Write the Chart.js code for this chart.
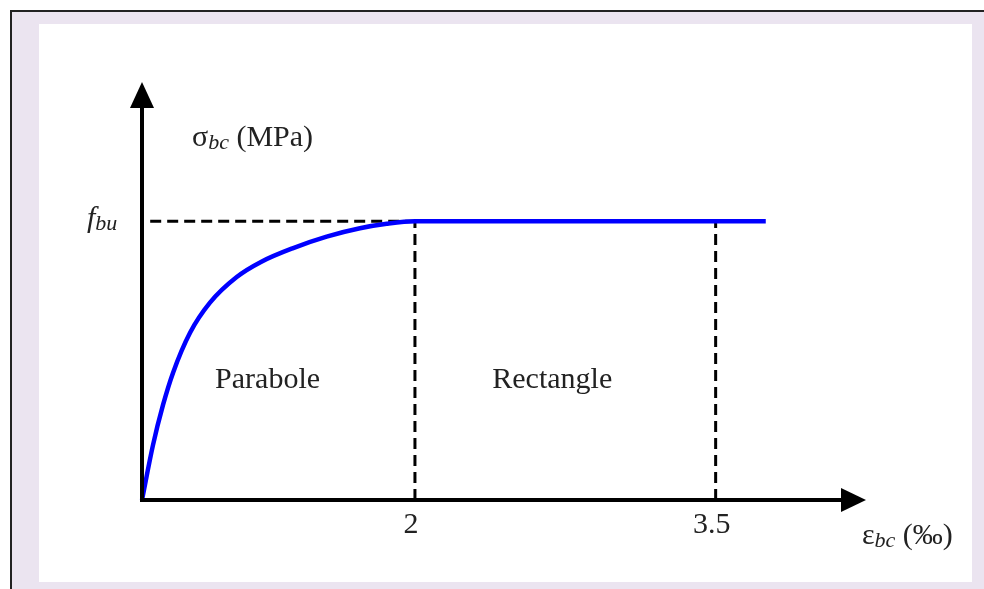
<!DOCTYPE html>
<html lang="fr">
<head>
  <meta charset="UTF-8">
  <title>Diagramme parabole-rectangle</title>
  <style>
    body {
      margin: 0;
      background: #ffffff;
      font-family: "Liberation Serif", serif;
    }
    .frame {
      position: absolute;
      left: 10px;
      top: 10px;
      width: 974px;
      height: 579px;
      background: #ebe4f0;
      border-top: 2px solid #222;
      border-left: 2px solid #222;
      box-sizing: border-box;
    }
    .panel {
      position: absolute;
      left: 39px;
      top: 24px;
      width: 933px;
      height: 558px;
      background: #ffffff;
    }
  </style>
  <script src="https://cdn.jsdelivr.net/npm/chart.js"></script>
</head>
<body>
  <div class="frame"></div>
  <div class="panel">
    <canvas id="chart" width="933" height="558"></canvas>
  </div>

  <script>
    // strain (‰) and normalised stress (sigma / fbu)
    const strain = [0, 0.08, 0.154, 0.227, 0.352, 0.498, 0.694, 0.875, 1.108, 1.353, 1.597, 1.793, 2, 3.75];
    const stress = [0, 0.196, 0.341, 0.456, 0.6, 0.708, 0.8, 0.855, 0.904, 0.945, 0.975, 0.991, 1, 1];

    const kneeStrain = 2;      // end of parabola
    const ultimateStrain = 3.5;
    const fbu = 1;

    const xTickValues = [2, 3.5];
    const xTickLabels = ['2', '3.5'];
    const zoneNames = ['Parabole', 'Rectangle'];

    const xMax = 4.25;
    const yMax = 1.5;

    // the sketch is not to scale: 0..2 is squeezed compared to 2..max
    const KNEE_FRACTION = 0.377;

    class BrokenScale extends Chart.LinearScale {
      static id = 'broken';
      static defaults = Chart.LinearScale.defaults;

      getPixelForValue(v) {
        if (v === null || v === undefined) return NaN;
        let f;
        if (v <= kneeStrain) {
          f = (v - this.min) / (kneeStrain - this.min) * KNEE_FRACTION;
        } else {
          f = KNEE_FRACTION + (v - kneeStrain) / (this.max - kneeStrain) * (1 - KNEE_FRACTION);
        }
        return this.getPixelForDecimal(f);
      }

      getValueForPixel(p) {
        const f = this.getDecimalForPixel(p);
        if (f <= KNEE_FRACTION) {
          return this.min + f / KNEE_FRACTION * (kneeStrain - this.min);
        }
        return kneeStrain + (f - KNEE_FRACTION) / (1 - KNEE_FRACTION) * (this.max - kneeStrain);
      }
    }
    Chart.register(BrokenScale);

    const pts = strain.map((x, i) => ({ x: x, y: stress[i] }));

    const dashed = {
      borderColor: '#000',
      borderWidth: 3,
      borderDash: [11, 6],
      pointRadius: 0,
      fill: false,
      order: 2
    };

    const SERIF = '"Liberation Serif", "Times New Roman", serif';

    function drawSub(ctx, x, y, main, mainFont, sub, subFont, rest) {
      ctx.font = mainFont;
      ctx.fillText(main, x, y);
      x += ctx.measureText(main).width;
      ctx.font = subFont;
      ctx.fillText(sub, x, y + 5);
      x += ctx.measureText(sub).width;
      if (rest) {
        ctx.font = mainFont;
        ctx.fillText(rest, x, y);
      }
    }

    const sketchAxes = {
      id: 'sketchAxes',
      afterDatasetsDraw(chart) {
        const ctx = chart.ctx;
        const xs = chart.scales.x;
        const ys = chart.scales.y;
        const x0 = xs.getPixelForValue(0);
        const y0 = ys.getPixelForValue(0);
        const xTip = xs.getPixelForValue(xMax);
        const yTip = ys.getPixelForValue(yMax);

        ctx.save();
        ctx.fillStyle = '#000';
        ctx.strokeStyle = '#000';
        ctx.lineWidth = 4;

        // axes
        ctx.beginPath();
        ctx.moveTo(x0, y0 + 2);
        ctx.lineTo(x0, yTip + 20);
        ctx.moveTo(x0 - 2, y0);
        ctx.lineTo(xTip - 20, y0);
        ctx.stroke();

        // arrow heads
        ctx.beginPath();
        ctx.moveTo(x0, yTip);
        ctx.lineTo(x0 - 12, yTip + 26);
        ctx.lineTo(x0 + 12, yTip + 26);
        ctx.closePath();
        ctx.fill();
        ctx.beginPath();
        ctx.moveTo(xTip, y0);
        ctx.lineTo(xTip - 25, y0 - 12);
        ctx.lineTo(xTip - 25, y0 + 12);
        ctx.closePath();
        ctx.fill();

        ctx.fillStyle = '#222';
        ctx.textBaseline = 'middle';

        // x tick labels
        ctx.textAlign = 'center';
        ctx.font = '30px ' + SERIF;
        xTickValues.forEach((v, i) => {
          ctx.fillText(xTickLabels[i], xs.getPixelForValue(v) - 4, y0 + 25);
        });

        // zone names
        const zoneX = [0.92, 2.685];
        zoneNames.forEach((name, i) => {
          ctx.fillText(name, xs.getPixelForValue(zoneX[i]), ys.getPixelForValue(0.43));
        });

        ctx.textAlign = 'left';
        // y axis title
        drawSub(ctx, x0 + 50, ys.getPixelForValue(1.3), 'σ', '30px ' + SERIF,
          'bc', 'italic 22px ' + SERIF, ' (MPa)');
        // fbu mark
        drawSub(ctx, x0 - 55, ys.getPixelForValue(fbu) - 2, 'f', 'italic 30px ' + SERIF,
          'bu', 'italic 22px ' + SERIF, '');
        // x axis title
        drawSub(ctx, xTip - 4, y0 + 36, 'ε', '30px ' + SERIF,
          'bc', 'italic 22px ' + SERIF, ' (‰)');

        ctx.restore();
      }
    };

    const ctx = document.getElementById('chart').getContext('2d');
    const chart = new Chart(ctx, {
      type: 'line',
      data: {
        datasets: [
          {
            label: 'σbc',
            data: pts,
            borderColor: '#0000ff',
            borderWidth: 4.5,
            pointRadius: 0,
            fill: false,
            cubicInterpolationMode: 'monotone',
            order: 1
          },
          Object.assign({ data: [{ x: 0.06, y: fbu }, { x: kneeStrain, y: fbu }] }, dashed),
          Object.assign({ data: [{ x: kneeStrain, y: 0 }, { x: kneeStrain, y: fbu }] }, dashed),
          Object.assign({ data: [{ x: ultimateStrain, y: 0 }, { x: ultimateStrain, y: fbu }] }, dashed)
        ]
      },
      options: {
        responsive: false,
        animation: false,
        clip: false,
        layout: {
          padding: { left: 103, right: 106, top: 58, bottom: 82 }
        },
        plugins: {
          legend: { display: false },
          tooltip: { enabled: false }
        },
        scales: {
          x: { type: 'broken', min: 0, max: xMax, display: false },
          y: { type: 'linear', min: 0, max: yMax, display: false }
        }
      },
      plugins: [sketchAxes]
    });
  </script>
</body>
</html>
